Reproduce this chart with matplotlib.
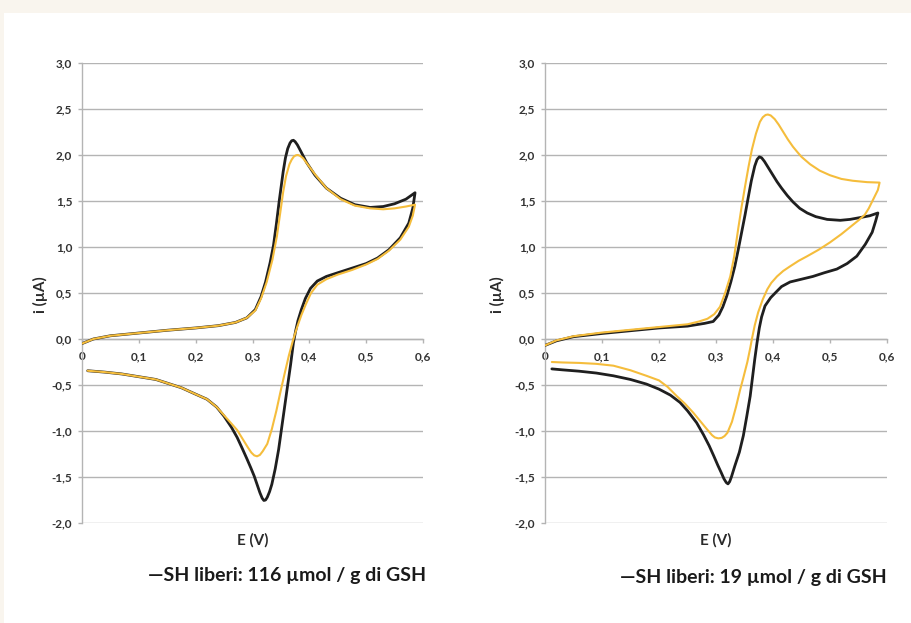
import matplotlib
matplotlib.use('Agg')
import matplotlib.pyplot as plt
from matplotlib.ticker import FuncFormatter
from matplotlib.patches import Rectangle

plt.rcParams['font.family'] = ['Lato', 'DejaVu Sans']
plt.rcParams['font.weight'] = 'bold'

# left panel: 116 umol/g, black and yellow scans (forward then reverse)
left_black_E = [0.000, 0.02, 0.05, 0.10, 0.15, 0.20, 0.24, 0.27, 0.29, 0.305, 0.315, 0.323,
                0.331, 0.337, 0.342, 0.347, 0.354, 0.358, 0.362, 0.366, 0.369, 0.372, 0.375,
                0.379, 0.385, 0.395, 0.41, 0.43, 0.455, 0.48, 0.507, 0.53, 0.55, 0.57, 0.586,
                0.582, 0.575, 0.56, 0.54, 0.52, 0.5, 0.475, 0.45, 0.43, 0.414, 0.402, 0.393,
                0.386, 0.38, 0.376, 0.372, 0.367, 0.361, 0.356, 0.351, 0.346, 0.34, 0.334,
                0.33, 0.326, 0.323, 0.32, 0.317, 0.313, 0.308, 0.303, 0.297, 0.29, 0.282,
                0.273, 0.263, 0.25, 0.237, 0.22, 0.2, 0.175, 0.155, 0.13, 0.1, 0.07, 0.04, 0.01]
left_black_i = [-0.05, 0.0, 0.035, 0.065, 0.095, 0.12, 0.145, 0.18, 0.23, 0.32, 0.46, 0.62,
                0.83, 1.02, 1.25, 1.5, 1.82, 1.97, 2.07, 2.13, 2.155, 2.16, 2.145,
                2.11, 2.04, 1.92, 1.78, 1.64, 1.53, 1.46, 1.43, 1.44, 1.47, 1.52, 1.59,
                1.42, 1.26, 1.1, 0.97, 0.88, 0.82, 0.77, 0.72, 0.68, 0.63, 0.55, 0.44,
                0.32, 0.2, 0.09, -0.04, -0.28, -0.54, -0.76, -0.98, -1.2, -1.41, -1.58,
                -1.66, -1.72, -1.75, -1.755, -1.73, -1.67, -1.58, -1.49, -1.40, -1.30, -1.19,
                -1.07, -0.96, -0.84, -0.74, -0.655, -0.6, -0.53, -0.49, -0.44, -0.41, -0.38,
                -0.36, -0.345]

left_yellow_E = [0.000, 0.02, 0.05, 0.10, 0.15, 0.20, 0.24, 0.27, 0.29, 0.305, 0.315, 0.325,
                 0.335, 0.343, 0.349, 0.354, 0.359, 0.365, 0.369, 0.373, 0.377, 0.38, 0.384,
                 0.389, 0.398, 0.41, 0.43, 0.455, 0.48, 0.507, 0.53, 0.55, 0.57, 0.586,
                 0.582, 0.575, 0.56, 0.54, 0.52, 0.5, 0.475, 0.45, 0.43, 0.414, 0.403, 0.394,
                 0.386, 0.378, 0.371, 0.364, 0.356, 0.349, 0.342, 0.334, 0.326, 0.318, 0.313,
                 0.308, 0.303, 0.298, 0.292, 0.284, 0.273, 0.263, 0.25, 0.237, 0.22, 0.2,
                 0.175, 0.155, 0.13, 0.1, 0.07, 0.04, 0.01]
left_yellow_i = [-0.05, 0.0, 0.035, 0.065, 0.095, 0.12, 0.145, 0.18, 0.23, 0.31, 0.44, 0.62,
                 0.86, 1.12, 1.38, 1.6, 1.77, 1.9, 1.95, 1.985, 1.998, 2.0, 1.99,
                 1.965, 1.89, 1.79, 1.64, 1.52, 1.45, 1.42, 1.41, 1.42, 1.44, 1.46,
                 1.34, 1.22, 1.08, 0.96, 0.87, 0.81, 0.75, 0.70, 0.65, 0.59, 0.5, 0.38,
                 0.26, 0.12, -0.02, -0.18, -0.39, -0.58, -0.78, -0.98, -1.14, -1.22, -1.26,
                 -1.275, -1.265, -1.235, -1.18, -1.1, -0.99, -0.92, -0.83, -0.74, -0.655, -0.6,
                 -0.53, -0.49, -0.44, -0.41, -0.38, -0.36, -0.345]

# right panel: 19 umol/g
right_black_E = [0.0, 0.02, 0.05, 0.1, 0.15, 0.2, 0.25, 0.28, 0.295, 0.305, 0.312, 0.319,
                 0.326, 0.333, 0.339, 0.345, 0.351, 0.356, 0.362, 0.368, 0.372, 0.376, 0.38,
                 0.385, 0.392, 0.4, 0.407, 0.415, 0.425, 0.435, 0.447, 0.46, 0.475, 0.495,
                 0.518, 0.535, 0.553, 0.57, 0.584,
                 0.58, 0.574, 0.562, 0.547, 0.53, 0.512, 0.49, 0.47, 0.45, 0.43, 0.415, 0.407,
                 0.396, 0.386, 0.38, 0.376, 0.372, 0.368, 0.364, 0.36, 0.354, 0.348, 0.341,
                 0.333, 0.327, 0.324, 0.321, 0.318, 0.314, 0.309, 0.303, 0.296, 0.288, 0.278,
                 0.266, 0.25, 0.237, 0.22, 0.2, 0.178, 0.15, 0.12, 0.09, 0.06, 0.03, 0.012]
right_black_i = [-0.07, -0.02, 0.025, 0.06, 0.09, 0.12, 0.14, 0.17, 0.19, 0.26, 0.35, 0.47,
                 0.62, 0.79, 0.97, 1.16, 1.35, 1.52, 1.72, 1.88, 1.95, 1.98, 1.97,
                 1.93, 1.86, 1.78, 1.71, 1.64, 1.56, 1.49, 1.42, 1.37, 1.33, 1.30,
                 1.29, 1.3, 1.32, 1.34, 1.37,
                 1.28, 1.16, 1.03, 0.9, 0.82, 0.76, 0.72, 0.68, 0.65, 0.62, 0.57, 0.52,
                 0.45, 0.36, 0.24, 0.12, -0.04, -0.22, -0.42, -0.62, -0.84, -1.05, -1.23,
                 -1.38, -1.5, -1.55, -1.575, -1.56, -1.52, -1.45, -1.37, -1.27, -1.16, -1.04,
                 -0.91, -0.78, -0.69, -0.61, -0.545, -0.49, -0.44, -0.4, -0.37, -0.35, -0.335,
                 -0.325]

right_yellow_E = [0.0, 0.02, 0.05, 0.1, 0.15, 0.2, 0.25, 0.27, 0.285, 0.297, 0.307, 0.316,
                  0.325, 0.332, 0.339, 0.345, 0.351, 0.357, 0.363, 0.37, 0.377, 0.382, 0.387,
                  0.391, 0.396, 0.403, 0.41, 0.418, 0.426, 0.435, 0.443, 0.45, 0.465, 0.482,
                  0.5, 0.52, 0.54, 0.565, 0.587,
                  0.584, 0.576, 0.568, 0.561, 0.55, 0.54, 0.52, 0.5, 0.48, 0.46, 0.445, 0.43,
                  0.418, 0.407, 0.397, 0.39, 0.382, 0.374, 0.368, 0.363, 0.36, 0.355, 0.348,
                  0.342, 0.335, 0.328, 0.32, 0.315, 0.31, 0.304, 0.298, 0.293, 0.284, 0.272,
                  0.26, 0.245, 0.231, 0.215, 0.2, 0.178, 0.15, 0.12, 0.09, 0.06, 0.03, 0.012]
right_yellow_i = [-0.07, -0.015, 0.03, 0.07, 0.1, 0.13, 0.16, 0.19, 0.22, 0.27, 0.35, 0.5,
                  0.68, 0.9, 1.2, 1.44, 1.66, 1.87, 2.06, 2.23, 2.36, 2.41, 2.435,
                  2.44, 2.43, 2.39, 2.33, 2.25, 2.17, 2.09, 2.03, 1.98, 1.9, 1.83,
                  1.78, 1.74, 1.72, 1.705, 1.70,
                  1.62, 1.52, 1.42, 1.35, 1.29, 1.24, 1.14, 1.05, 0.97, 0.9, 0.85, 0.79,
                  0.74, 0.68, 0.61, 0.54, 0.43, 0.29, 0.15, 0.0, -0.1, -0.25, -0.42,
                  -0.56, -0.74, -0.9, -1.02, -1.055, -1.075, -1.08, -1.07, -1.045, -0.98, -0.89,
                  -0.8, -0.7, -0.62, -0.52, -0.45, -0.4, -0.34, -0.29, -0.27, -0.26, -0.255, -0.25]

y_ticks = [-2.0, -1.5, -1.0, -0.5, 0.0, 0.5, 1.0, 1.5, 2.0, 2.5, 3.0]
x_ticks = [0.0, 0.1, 0.2, 0.3, 0.4, 0.5, 0.6]
captions = ['\u2014SH liberi: 116 \u00b5mol / g di GSH', '\u2014SH liberi: 19 \u00b5mol / g di GSH']

BLACK = '#1f1f1f'
YELLOW = '#f5bd3c'
GRID = '#b4b4b4'
TEXT = '#333333'


def x_fmt(v, pos):
    if abs(v) < 1e-9:
        return '0'
    return f'{v:.1f}'.replace('.', ',')


def y_fmt(v, pos):
    return f'{v:.1f}'.replace('.', ',')


def draw_panel(ax, black_E, black_i, yellow_E, yellow_i, ylabel_x):
    ax.set_xlim(0, 0.6)
    ax.set_ylim(-2.0, 3.0)
    ax.set_yticks(y_ticks)
    ax.set_xticks(x_ticks)
    ax.yaxis.set_major_formatter(FuncFormatter(y_fmt))
    ax.xaxis.set_major_formatter(FuncFormatter(x_fmt))
    for s in ['top', 'right']:
        ax.spines[s].set_visible(False)
    ax.spines['bottom'].set_position(('data', 0))
    for s in ['bottom', 'left']:
        ax.spines[s].set_color(GRID)
        ax.spines[s].set_linewidth(1.0)
    ax.yaxis.grid(True, color=GRID, linewidth=1.0)
    ax.set_axisbelow(True)
    ax.tick_params(axis='y', direction='out', length=3, width=1, color=GRID,
                   pad=4, labelsize=8.5, labelcolor=TEXT)
    ax.tick_params(axis='x', direction='out', length=3, width=1, color=GRID,
                   pad=6, labelsize=8.5, labelcolor=TEXT)
    for lab in ax.get_xticklabels() + ax.get_yticklabels():
        lab.set_fontweight('bold')

    ax.plot(black_E, black_i, color=BLACK, linewidth=2.0, solid_joinstyle='round',
            solid_capstyle='round', zorder=3)
    ax.plot(yellow_E, yellow_i, color=YELLOW, linewidth=1.5, solid_joinstyle='round',
            solid_capstyle='round', zorder=4)

    ax.text(0.5, -0.037, 'E (V)', transform=ax.transAxes, ha='center', va='center',
            fontsize=11, fontweight='bold', color='#2a2a2a')
    ax.text(ylabel_x, 0.496, 'i (\u00b5A)', transform=ax.transAxes, ha='center',
            va='center', rotation=90, fontsize=11, fontweight='bold', color='#2a2a2a')


fig = plt.figure(figsize=(9.11, 6.23), dpi=100)
fig.patch.set_facecolor('white')
# beige frame strips along the top and left edges
fig.add_artist(Rectangle((0, 1 - 13 / 623), 1, 13 / 623, transform=fig.transFigure,
                         facecolor='#f9f5ee', edgecolor='none', zorder=0))
fig.add_artist(Rectangle((0, 0), 4 / 911, 1, transform=fig.transFigure,
                         facecolor='#f9f5ee', edgecolor='none', zorder=0))

ax1 = fig.add_axes([82 / 911, 1 - 523 / 623, 341 / 911, 460 / 623])
ax2 = fig.add_axes([545 / 911, 1 - 523 / 623, 342 / 911, 460 / 623])
ax1.patch.set_alpha(0)
ax2.patch.set_alpha(0)

draw_panel(ax1, left_black_E, left_black_i, left_yellow_E, left_yellow_i, -0.123)
draw_panel(ax2, right_black_E, right_black_i, right_yellow_E, right_yellow_i, -0.14)

fig.text(287 / 911, 1 - 575 / 623, captions[0], ha='center', va='center',
         fontsize=14, fontweight='bold', color='#1a1a1a')
fig.text(753 / 911, 1 - 577 / 623, captions[1], ha='center', va='center',
         fontsize=14, fontweight='bold', color='#1a1a1a')

fig.savefig('out.png', dpi=100, facecolor=fig.get_facecolor())
